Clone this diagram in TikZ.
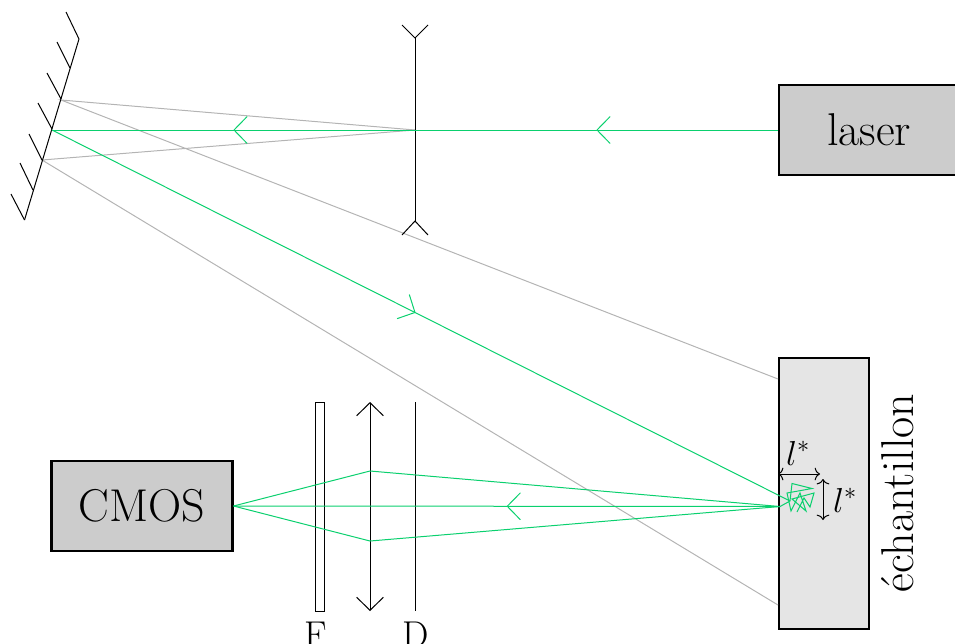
\documentclass[tikz,border=0pt]{standalone}
\usepackage{fix-cm}
\usepackage{amsmath}
\usetikzlibrary{arrows.meta,decorations.markings}
\definecolor{beamgreen}{RGB}{10,208,110}
\definecolor{raygray}{RGB}{180,180,180}
\tikzset{
	device/.style={draw,line width=1.6pt,inner sep=0pt,font=\fontsize{34.5}{34.5}\selectfont},
	optic/.style={line width=0.75pt},
	beam/.style={beamgreen,line width=0.75pt},
	ray/.style={raygray,line width=0.75pt},
	chevron/.style={postaction={decorate},decoration={markings,mark=at position #1 with {\arrow[line width=0.75pt]{Straight Barb[length=9.75pt,width=20pt,round=false]}}}},
	chevron/.default=.5,
	span/.style={line width=0.75pt,{Computer Modern Rightarrow[length=4pt,width=9.5pt]}-{Computer Modern Rightarrow[length=4pt,width=9.5pt]}},
	caption/.style={inner sep=0pt,anchor=north,font=\fontsize{28}{28}\selectfont},
	mathlabel/.style={inner sep=0pt,font=\fontsize{26}{26}\selectfont},
}
\begin{document}
\begin{tikzpicture}[x=0.75pt,y=0.75pt,yscale=-1,xscale=1]
	\useasboundingbox (0,0) rectangle (955,643);
	% boxes
	\node [device,fill=black!20,minimum width=135pt,minimum height=67.5pt,anchor=west] (laser) at (778,130) {laser};
	\node [device,fill=black!10,minimum width=67.5pt,minimum height=203pt,anchor=north west] (sample) at (778,357) {};
	\node [device,fill=black!20,minimum width=135.75pt,minimum height=67.5pt,anchor=east] (cmos) at (233.5,506) {CMOS};
	\node [inner sep=0pt,rotate=90,font=\fontsize{34.5}{34.5}\selectfont] (samplename) at (898,493) {échantillon};
	% points on the optics
	\coordinate (split) at (415,130);
	\coordinate (mirA) at (61,100);
	\coordinate (mirB) at (52,130);
	\coordinate (mirC) at (42,160);
	\coordinate (spot) at (780,506.5);
	\coordinate (enter) at (790,501);
	\coordinate (inA) at (778,379);
	\coordinate (inB) at (778,605);
	\coordinate (lensA) at (370,471);
	\coordinate (lensB) at (370,541);
	% gray rays
	\draw [ray] (split) -- (mirA) -- (inA);
	\draw [ray] (split) -- (mirC) -- (inB);
	% mirror
	\draw [optic] (79,39) -- (24.5,220);
	\foreach \xa/\ya/\xb/\yb in {79/39/66/12,70/68/57/42,61/99/47/73,52/129/38/103,42/160/29/134,33/190/20/163,24.5/220/11/194}
		\draw [optic] (\xa,\ya) -- (\xb,\yb);
	% diverging lens
	\draw [optic] (402,25) -- (415,38) -- (428,25);
	\draw [optic] (415,38) -- (415,221);
	\draw [optic] (402,235) -- (415,221) -- (428,235);
	% filter, lens, diaphragm
	\node [draw,line width=0.75pt,inner sep=0pt,minimum width=6.75pt,minimum height=156.75pt,anchor=north] (filter) at (319.5,402) {};
	\coordinate (lensTop) at (370,402);
	\coordinate (lensBot) at (370,611);
	\draw [optic,{Straight Barb[length=9.75pt,width=20pt]}-{Straight Barb[length=9.75pt,width=20pt]}] (lensTop) -- (lensBot);
	\coordinate (diaTop) at (415,402);
	\coordinate (diaBot) at (415,611);
	\draw [optic] (diaTop) -- (diaBot);
	\node [caption] (fname) at (315.5,622) {F};
	\node [caption] (dname) at (415.5,622) {D};
	% green beams
	\draw [beam,chevron] (laser.west) -- (split);
	\draw [beam,chevron] (split) -- (mirB);
	\draw [beam,chevron=.4925] (mirB) -- (enter);
	\draw [beam,chevron] (spot) -- (cmos.east);
	\draw [beam] (spot) -- (lensA) -- (cmos.east);
	\draw [beam] (spot) -- (lensB) -- (cmos.east);
	\draw [beam] (spot) -- (enter) -- (792,483.5) -- (812,488.5) -- (787,493) -- (791,511) -- (800,493) -- (806,511) -- (792,499) -- (814,493) -- (810,507) -- (804,498) -- (797,512);
	% scattering length
	\coordinate (lhA) at (778,474);
	\coordinate (lhB) at (820,474);
	\coordinate (lvA) at (823,479);
	\coordinate (lvB) at (823,520);
	\draw [span] (lhA) -- (lhB);
	\draw [span] (lvA) -- (lvB);
	\node [mathlabel] (lh) at (798,453) {$l^{*}$};
	\node [mathlabel] (lv) at (845,500) {$l^{*}$};
\end{tikzpicture}
\end{document}
